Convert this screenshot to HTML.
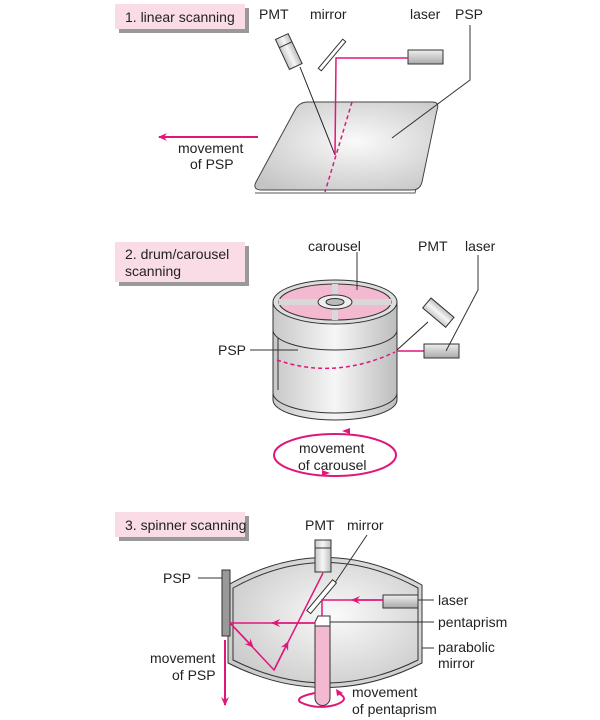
<!DOCTYPE html>
<html><head><style>body{margin:0;background:#fff}svg{display:block}text{font-family:"Liberation Sans",sans-serif;font-size:14px;fill:#222}</style></head><body>
<svg width="600" height="720" viewBox="0 0 600 720" xmlns="http://www.w3.org/2000/svg">
<defs>
<radialGradient id="g1" cx="0.55" cy="0.45" r="0.7"><stop offset="0" stop-color="#fafafa"/><stop offset="1" stop-color="#c4c4c4"/></radialGradient>
<linearGradient id="g2" x1="0" x2="1"><stop offset="0" stop-color="#c8c8c8"/><stop offset="0.5" stop-color="#f6f6f6"/><stop offset="1" stop-color="#bdbdbd"/></linearGradient>
<linearGradient id="g3" x1="0" y1="0" x2="0" y2="1"><stop offset="0" stop-color="#eee"/><stop offset="1" stop-color="#aaa"/></linearGradient>
<marker id="ah" markerWidth="10" markerHeight="10" refX="8" refY="5" orient="auto" markerUnits="userSpaceOnUse"><path d="M0,1 L9,5 L0,9 L3,5z" fill="#e0177a"/></marker>
</defs>
<!-- section 1 -->
<rect x="119" y="8" width="130" height="25" fill="#999"/>
<rect x="115" y="4" width="130" height="25" fill="#f9dce6"/>
<text x="125" y="22">1. linear scanning</text>
<text x="259" y="19">PMT</text><text x="310" y="19">mirror</text><text x="410" y="19">laser</text><text x="455" y="19">PSP</text>
<path d="M255,193 L415,193 L436,107" fill="none" stroke="#555" stroke-width="1"/>
<path d="M308,102 L432,102 Q440,102 437,110 L422,182 Q420,190 412,190 L262,190 Q252,190 256,182 L295,110 Q299,102 308,102z" fill="url(#g1)" stroke="#444" stroke-width="1"/>
<line x1="352" y1="102" x2="325" y2="192" stroke="#e0177a" stroke-width="1.5" stroke-dasharray="4,3"/>
<g transform="rotate(-25 289 52)"><rect x="282" y="35" width="14" height="33" fill="url(#g2)" stroke="#333"/><line x1="282" y1="44" x2="296" y2="44" stroke="#333"/></g>
<line x1="300" y1="67" x2="335" y2="155" stroke="#222" stroke-width="1"/>
<g transform="rotate(-50 332 55)"><rect x="313" y="53" width="38" height="4" fill="#fff" stroke="#333"/></g>
<rect x="408" y="50" width="35" height="14" fill="url(#g3)" stroke="#333"/>
<polyline points="408,58 336,58 335,155" fill="none" stroke="#e0177a" stroke-width="1.5"/>
<polyline points="470,25 470,80 392,138" fill="none" stroke="#333"/>
<line x1="258" y1="137" x2="159" y2="137" stroke="#e0177a" stroke-width="2" marker-end="url(#ah)"/>
<text x="178" y="153">movement</text><text x="190" y="169">of PSP</text>
<!-- section 2 -->
<rect x="119" y="246" width="130" height="40" fill="#999"/>
<rect x="115" y="242" width="130" height="40" fill="#f9dce6"/>
<text x="125" y="259">2. drum/carousel</text><text x="125" y="276">scanning</text>
<text x="308" y="251">carousel</text><text x="418" y="251">PMT</text><text x="465" y="251">laser</text>
<path d="M273,302 L273,400 A62,20 0 0 0 397,400 L397,302z" fill="url(#g2)" stroke="#333"/>
<path d="M273,330 A62,20 0 0 0 397,330 M273,393 A62,20 0 0 0 397,393" fill="none" stroke="#333"/>
<path d="M278,338 L278,390" stroke="#333" fill="none"/>
<ellipse cx="335" cy="302" rx="62" ry="22" fill="#ddd" stroke="#333"/>
<ellipse cx="335" cy="302" rx="56" ry="18" fill="#f3b9d0" stroke="#333"/>
<path d="M279,302 L391,302 M335,284 L335,320" stroke="#d8d8d8" stroke-width="6"/>
<ellipse cx="335" cy="302" rx="17" ry="7" fill="#eee" stroke="#333"/>
<ellipse cx="335" cy="302" rx="9" ry="3.5" fill="#bbb" stroke="#333"/>
<path d="M277,360 Q335,380 395,352" fill="none" stroke="#e0177a" stroke-width="1.5" stroke-dasharray="4,3"/>
<line x1="357" y1="252" x2="357" y2="290" stroke="#333"/>
<line x1="250" y1="350" x2="298" y2="350" stroke="#333"/><text x="218" y="355">PSP</text>
<g transform="rotate(-50 438 313)"><rect x="432" y="298" width="13" height="30" fill="url(#g2)" stroke="#333"/></g>
<line x1="428" y1="322" x2="397" y2="350" stroke="#222"/>
<line x1="397" y1="351" x2="424" y2="351" stroke="#e0177a" stroke-width="1.5"/>
<rect x="424" y="344" width="35" height="14" fill="url(#g3)" stroke="#333"/>
<polyline points="478,255 478,290 446,351" fill="none" stroke="#333"/>
<ellipse cx="335" cy="455" rx="61" ry="21" fill="none" stroke="#e0177a" stroke-width="2"/>
<path d="M350,434 l-8,-3 l8,-3z M322,476 l8,-3 l-8,-3z" fill="#e0177a"/>
<text x="299" y="453">movement</text><text x="298" y="470">of carousel</text>
<!-- section 3 -->
<rect x="119" y="516" width="130" height="25" fill="#999"/>
<rect x="115" y="512" width="130" height="25" fill="#f9dce6"/>
<text x="125" y="530">3. spinner scanning</text>
<text x="305" y="530">PMT</text><text x="347" y="530">mirror</text>
<path d="M228,585 Q325,530 422,585 L422,663 Q325,712 228,663z" fill="url(#g1)" stroke="#333"/>
<path d="M233,588 Q325,537 418,588 L418,660 Q325,706 233,660z" fill="none" stroke="#333"/>
<rect x="222" y="570" width="8" height="66" fill="#999" stroke="#333"/>
<line x1="198" y1="578" x2="222" y2="578" stroke="#333"/><text x="163" y="583">PSP</text>
<rect x="315" y="540" width="16" height="32" fill="url(#g2)" stroke="#333"/>
<line x1="315" y1="548" x2="331" y2="548" stroke="#333"/>
<line x1="367" y1="535" x2="330" y2="590" stroke="#333"/>
<g transform="rotate(-50 322 597)"><rect x="302" y="594" width="40" height="5" fill="#fff" stroke="#333"/></g>
<rect x="383" y="595" width="35" height="13" fill="url(#g3)" stroke="#333"/>
<path d="M315,622 L330,622 L330,698 A7.5,7.5 0 0 1 315,698z" fill="#f3b9d0" stroke="#333"/>
<path d="M315,622 L318,616 L330,616 L330,626 L315,626z" fill="#fff" stroke="#333"/>
<g stroke="#e0177a" stroke-width="1.5" fill="none">
<polyline points="383,600 322,600 322,616"/>
<line x1="383" y1="600" x2="352" y2="600" marker-end="url(#ah)"/>
<line x1="315" y1="623" x2="230" y2="623"/>
<line x1="315" y1="623" x2="272" y2="623" marker-end="url(#ah)"/>
<polyline points="230,623 274,670 323,573"/>
<line x1="230" y1="623" x2="253" y2="647" marker-end="url(#ah)"/>
<line x1="274" y1="670" x2="288" y2="642" marker-end="url(#ah)"/>
<line x1="225" y1="640" x2="225" y2="705" stroke-width="2" marker-end="url(#ah)"/>
<path d="M315,693 Q295,697 300,702 Q315,710 335,705 Q350,700 340,694" stroke-width="2"/>
</g>
<path d="M343,693 l-7,-4 l1,7z" fill="#e0177a"/>
<line x1="418" y1="600" x2="434" y2="600" stroke="#333"/><text x="438" y="605">laser</text>
<line x1="330" y1="622" x2="434" y2="622" stroke="#333"/><text x="438" y="627">pentaprism</text>
<line x1="422" y1="648" x2="434" y2="648" stroke="#333"/><text x="438" y="652">parabolic</text><text x="438" y="668">mirror</text>
<text x="150" y="663">movement</text><text x="172" y="680">of PSP</text>
<text x="352" y="697">movement</text><text x="352" y="714">of pentaprism</text>
</svg>
</body></html>
